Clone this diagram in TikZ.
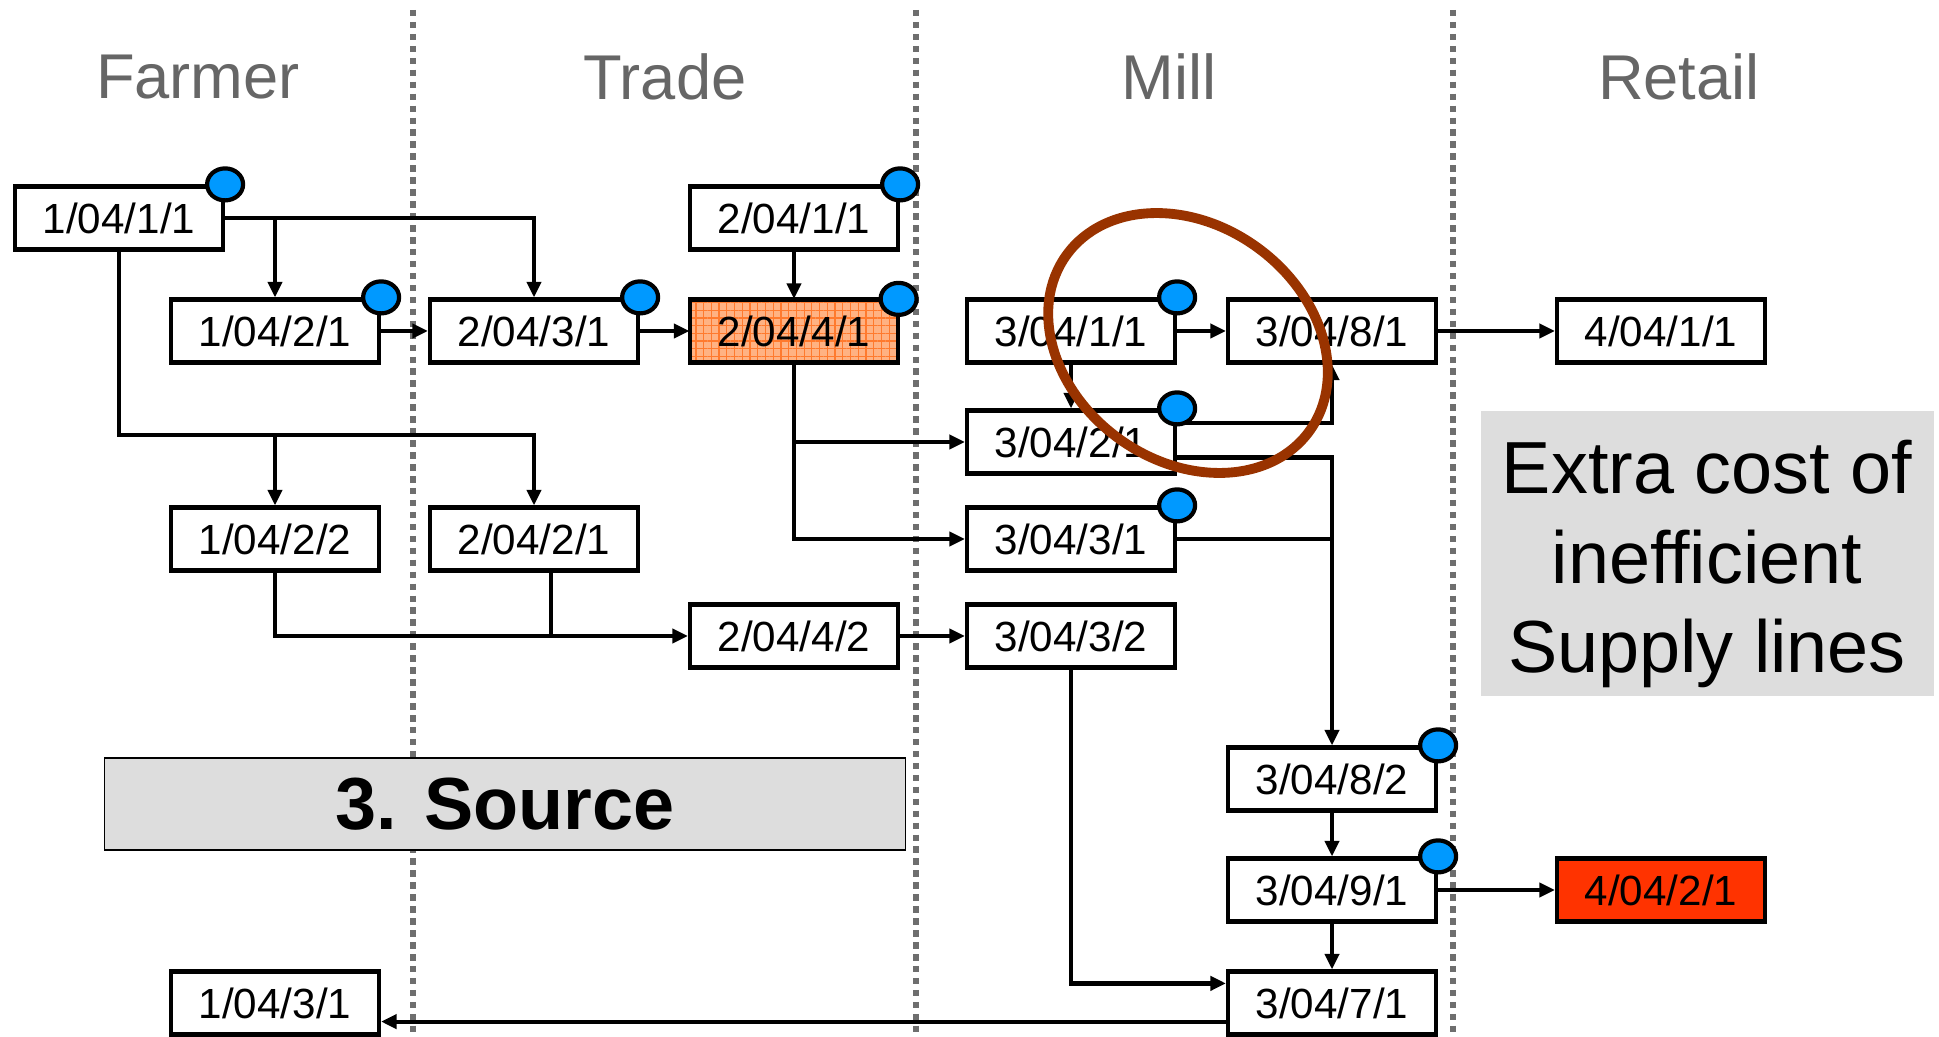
\documentclass[tikz,border=0pt]{standalone}
\usepackage{fontspec}
\setmainfont{Liberation Sans}
\usepackage{xcolor}
\usepackage{tikz}
\usetikzlibrary{arrows.meta, positioning, calc, shapes.geometric, patterns.meta}
\definecolor{lanegray}{HTML}{666666}
\definecolor{sepgray}{HTML}{6E6E6E}
\definecolor{tagblue}{HTML}{0099FF}
\definecolor{notegray}{HTML}{DDDDDD}
\definecolor{hotorange}{HTML}{FFB283}
\definecolor{gridorange}{HTML}{FF7A2E}
\definecolor{alarmred}{HTML}{FF3300}
\definecolor{ringbrown}{HTML}{993300}
\tikzset{
  stage/.style  ={rectangle, draw=black, fill=white, line width=1.2pt, minimum width=2.08cm,
                  minimum height=0.63cm, inner sep=0pt, font=\fontsize{12}{14}\selectfont},
  hot/.style    ={stage, fill=none, preaction={fill=hotorange},
                  pattern={Hatch[distance=2.2pt, line width=0.35pt]}, pattern color=gridorange},
  alarm/.style  ={stage, fill=alarmred},
  tagdot/.style ={ellipse, draw=black, fill=tagblue, line width=1.2pt, minimum width=0.36cm,
                  minimum height=0.32cm, inner sep=0pt},
  note/.style   ={rectangle, fill=notegray, align=center, inner sep=0pt},
  lanehead/.style={font=\fontsize{18}{20}\selectfont, text=lanegray, inner sep=0pt},
  lanesep/.style={draw=sepgray, line width=1.5pt, dash pattern=on 1.85pt off 1.55pt},
  flow/.style   ={-{Triangle[length=4.4pt, width=4pt]}, draw=black, line width=1.2pt},
  link/.style   ={draw=black, line width=1.2pt},
  ring/.style   ={draw=ringbrown, line width=2.8pt},
}

\begin{document}
\begin{tikzpicture}
  \useasboundingbox (0,0) rectangle (19.39,-10.37);
  % lanes
  \draw[lanesep] (4.13,-0.10) -- (4.13,-10.37);
  \draw[lanesep] (9.16,-0.10) -- (9.16,-10.37);
  \draw[lanesep] (14.53,-0.10) -- (14.53,-10.37);
  \node[lanehead] (hfarm)  at (1.98,-0.77)  {Farmer};
  \node[lanehead] (htrade) at (6.65,-0.77)  {Trade};
  \node[lanehead] (hmill)  at (11.69,-0.77) {Mill};
  \node[lanehead] (hretl)  at (16.79,-0.77) {Retail};
  \node[note, draw=black, line width=0.5pt, minimum width=8.01cm, minimum height=0.92cm,
        font=\bfseries\fontsize{21}{25}\selectfont] (src) at (5.05,-8.04) {3. Source};
  \node[note, minimum width=4.53cm, minimum height=2.85cm] (cost) at (17.07,-5.54) {};
  \node[align=center, font=\fontsize{21}{25.4}\selectfont] (costtxt) at ([yshift=-1mm]cost.center)
        {Extra cost of\\inefficient\\Supply lines};
  % batches
  \node[stage] (f11) at (1.19,-2.18)  {1/04/1/1};
  \node[stage] (f21) at (2.75,-3.31)  {1/04/2/1};
  \node[stage] (f22) at (2.75,-5.39)  {1/04/2/2};
  \node[stage] (f31) at (2.75,-10.03) {1/04/3/1};
  \node[stage] (t11) at (7.94,-2.18)  {2/04/1/1};
  \node[stage] (t31) at (5.34,-3.31)  {2/04/3/1};
  \node[hot]   (t41) at (7.94,-3.31)  {2/04/4/1};
  \node[stage] (t21) at (5.34,-5.39)  {2/04/2/1};
  \node[stage] (t42) at (7.94,-6.36)  {2/04/4/2};
  \node[stage] (m11) at (10.71,-3.31) {3/04/1/1};
  \node[stage] (m81) at (13.32,-3.31) {3/04/8/1};
  \node[stage] (m21) at (10.71,-4.42) {3/04/2/1};
  \node[stage] (m31) at (10.71,-5.39) {3/04/3/1};
  \node[stage] (m32) at (10.71,-6.36) {3/04/3/2};
  \node[stage] (m82) at (13.32,-7.79) {3/04/8/2};
  \node[stage] (m91) at (13.32,-8.90) {3/04/9/1};
  \node[stage] (m71) at (13.32,-10.03) {3/04/7/1};
  \node[stage] (r11) at (16.61,-3.31) {4/04/1/1};
  \node[alarm] (r21) at (16.61,-8.90) {4/04/2/1};
  \coordinate (fsplit) at (1.19,-4.35);
  % flows
  \draw[flow] (f11.east) -| (t31.north);
  \draw[flow] (f11.east -| f21.north) -- (f21.north);
  \draw[flow] (f11.south) -- (fsplit) -| (t21.north);
  \draw[flow] (fsplit -| f22.north) -- (f22.north);
  \draw[flow] (f21.east) -- (t31.west);
  \draw[flow] (t31.east) -- (t41.west);
  \draw[flow] (t11.south) -- (t41.north);
  \draw[flow] (t41.south) |- (m31.west);
  \draw[flow] (t41.south |- m21.west) -- (m21.west);
  \draw[flow] (f22.south) |- (t42.west);
  \draw[link] ([xshift=1.7mm]t21.south) -- ([xshift=1.7mm]t21.south |- t42.west);
  \draw[flow] (t42.east) -- (m32.west);
  \draw[flow] (m11.east) -- (m81.west);
  \draw[flow] (m11.south) -- (m21.north);
  \draw[flow] ([yshift=-1.5mm]m21.north east) -| (m81.south);
  \draw[flow] ([yshift=-1.55mm]m21.east) -| (m82.north);
  \draw[link] (m31.east) -- (m31.east -| m82.north);
  \draw[flow] (m82.south) -- (m91.north);
  \draw[flow] (m91.south) -- (m71.north);
  \draw[flow] (m91.east) -- (r21.west);
  \draw[flow] (m81.east) -- (r11.west);
  \draw[flow] (m32.south) |- ([yshift=-1.4mm]m71.north west);
  \draw[flow] ([yshift=1.5mm]m71.south west) -- ([yshift=1.5mm]f31.south east);
  % tags
  \node[tagdot] (f11d) at (f11.north east) {};
  \node[tagdot] (f21d) at (f21.north east) {};
  \node[tagdot] (t11d) at (t11.north east) {};
  \node[tagdot] (t31d) at (t31.north east) {};
  \node[tagdot] (t41d) at (t41.north east) {};
  \node[tagdot] (m11d) at (m11.north east) {};
  \node[tagdot] (m21d) at (m21.north east) {};
  \node[tagdot] (m31d) at (m31.north east) {};
  \node[tagdot] (m82d) at (m82.north east) {};
  \node[tagdot] (m91d) at (m91.north east) {};
  % highlight
  \draw[ring, rotate around={-36:(11.88,-3.43)}] (11.88,-3.43) ellipse [x radius=1.50, y radius=1.18];
\end{tikzpicture}
\end{document}
